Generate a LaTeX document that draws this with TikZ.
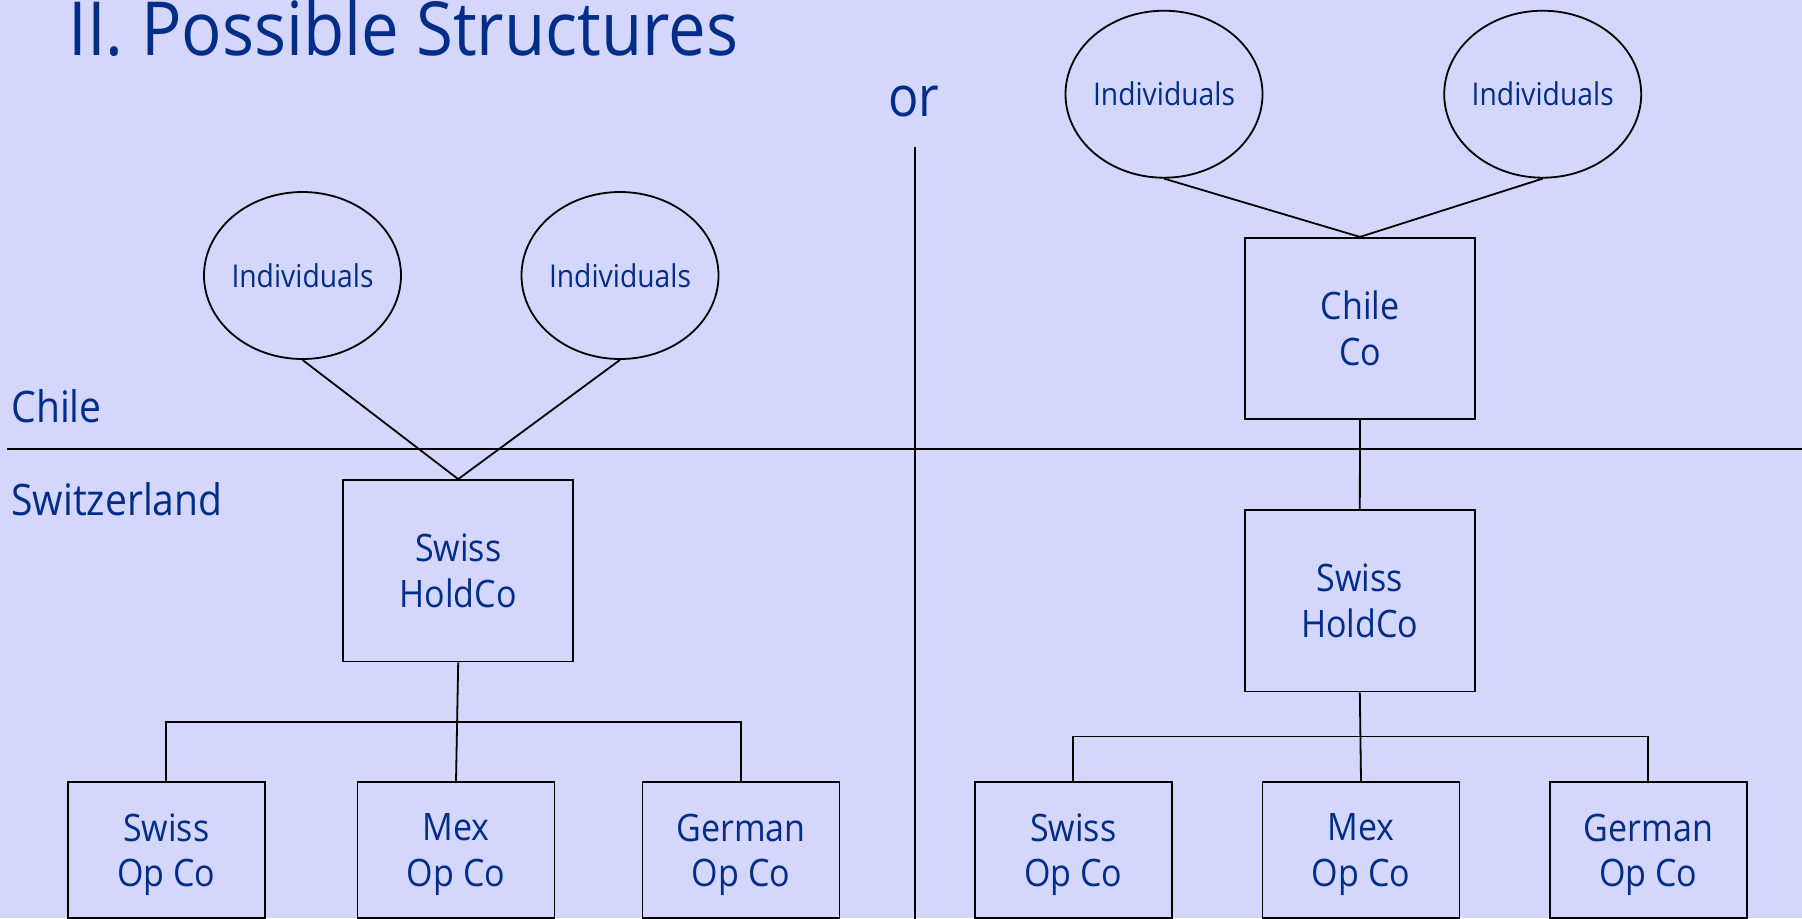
\documentclass[tikz,border=0pt]{standalone}
\usepackage{fontspec}
\setmainfont[FakeStretch=0.9]{Open Sans}
\usetikzlibrary{shapes.geometric}
\definecolor{bgc}{RGB}{213,214,252}
\definecolor{txtc}{RGB}{0,45,135}
\tikzset{
  box/.style={draw=black, line width=0.9pt, rectangle, inner sep=0pt, align=center,
    text=txtc, font={\fontsize{18.9}{22.7}\selectfont}},
  bigbox/.style={box, minimum width=115pt, minimum height=90.7pt},
  opbox/.style={box, minimum width=98.5pt, minimum height=67.7pt, text depth=0pt},
  indiv/.style={draw=black, line width=0.9pt, ellipse, inner xsep=-4pt, inner ysep=0pt,
    minimum width=98.5pt, minimum height=83.5pt, text=txtc, font={\fontsize{15.7}{18}\selectfont}},
  conn/.style={draw=black, line width=0.9pt},
  lbl/.style={text=txtc, inner sep=0pt}
}
\begin{document}
\begin{tikzpicture}[x=0.5pt,y=-0.5pt]
\fill[bgc] (0,0) rectangle (1802,918);
\useasboundingbox (0,0) rectangle (1802,918);

% title and labels
\node[lbl, anchor=base west, font={\fontsize{37.3}{40}\selectfont}] (title) at (68,55) {II. Possible Structures};
\node[lbl, anchor=base, font={\fontsize{28}{32}\selectfont}] (or) at (914,116.7) {or};
\node[lbl, anchor=base west, font={\fontsize{21.7}{25}\selectfont}] (chile) at (11,422.3) {Chile};
\node[lbl, anchor=base west, font={\fontsize{21.7}{25}\selectfont}] (switz) at (11,515.7) {Switzerland};

% divider lines
\coordinate (hl) at (6.7,449.3);
\coordinate (hr) at (1802,449.3);
\coordinate (vt) at (915,146.7);
\coordinate (vb) at (915,920);
\draw[conn] (hl) -- (hr);
\draw[conn] (vt) -- (vb);

% left structure
\node[indiv] (e1) at (302.5,275.5) {Individuals};
\node[indiv] (e2) at (620,275.5) {Individuals};
\node[bigbox] (holdL) at (458.2,570.7) {Swiss\\HoldCo};
\node[opbox] (swissL) at (166.2,850) {Swiss\\Op Co};
\node[opbox] (mexL) at (456,850) {Mex\\Op Co};
\node[opbox] (germanL) at (741,850) {German\\Op Co};
\coordinate (barL) at (458,722);
\draw[conn] (e1.south) -- (holdL.north);
\draw[conn] (e2.south) -- (holdL.north);
\draw[conn] (holdL.south) -- (mexL.north);
\draw[conn] (swissL.north) |- (barL) -| (germanL.north);

% right structure
\node[indiv] (e3) at (1164,94.2) {Individuals};
\node[indiv] (e4) at (1542.7,94.2) {Individuals};
\node[bigbox] (chileco) at (1360,328.5) {Chile\\Co};
\node[bigbox] (holdR) at (1359.8,600.7) {Swiss\\HoldCo};
\node[opbox] (swissR) at (1073.3,850) {Swiss\\Op Co};
\node[opbox] (mexR) at (1361,850) {Mex\\Op Co};
\node[opbox] (germanR) at (1648.3,850) {German\\Op Co};
\coordinate (barR) at (1360,736.5);
\draw[conn] (e3.south) -- (chileco.north);
\draw[conn] (e4.south) -- (chileco.north);
\draw[conn] (chileco.south) -- (holdR.north);
\draw[conn] (holdR.south) -- (mexR.north);
\draw[conn] (swissR.north) |- (barR) -| (germanR.north);
\end{tikzpicture}
\end{document}
